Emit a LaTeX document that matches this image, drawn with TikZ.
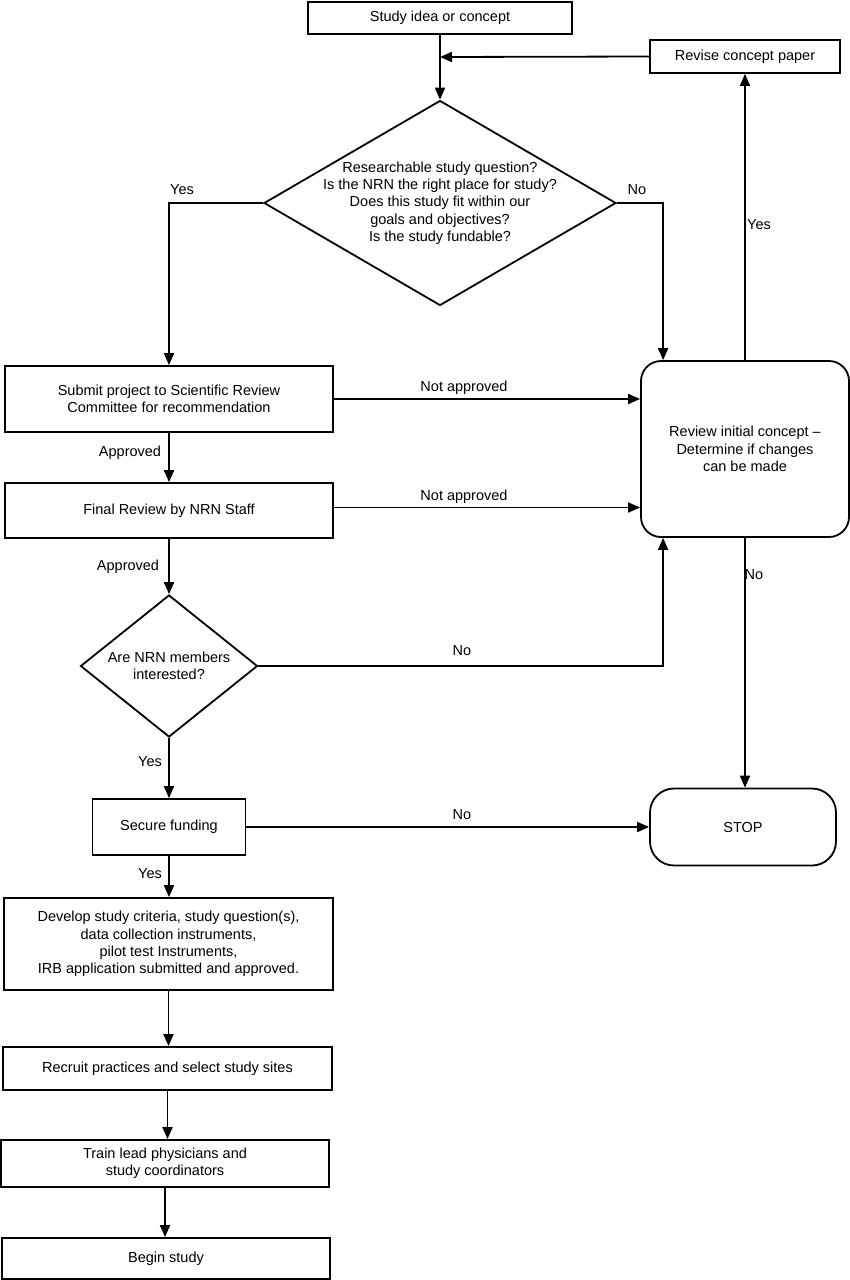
\documentclass[tikz,border=0pt]{standalone}
\usepackage{fontspec}
\setmainfont{Liberation Sans}
\usetikzlibrary{shapes.geometric,arrows.meta}
\tikzset{
  box/.style={draw, line width=1.8pt, inner sep=0pt, align=center, rectangle},
  rbox/.style={box, rounded corners=20pt},
  dia/.style={draw, line width=1.8pt, diamond, inner sep=0pt},
  conn/.style={line width=1.8pt},
  arr/.style={conn, -{Triangle[length=12pt,width=10pt]}},
  lbl/.style={inner sep=1pt},
}
\begin{document}
\begin{tikzpicture}[x=1pt,y=-1pt,font=\fontsize{14.5}{17.3}\selectfont]
\useasboundingbox (0,0) rectangle (850,1280);
% nodes
\node[box, minimum width=264, minimum height=32] (study) at (440,18) {Study idea or concept};
\node[box, minimum width=190, minimum height=33] (revise) at (745,56.5) {Revise concept paper};
\node[dia, minimum width=352, minimum height=205] (d1) at (440,203) {};
\node[align=center, inner sep=0pt] (d1t) at (d1.center) {Researchable study question?\\Is the NRN the right place for study?\\Does this study fit within our\\goals and objectives?\\Is the study fundable?};
\node[box, minimum width=328, minimum height=66] (submit) at (169,399) {Submit project to Scientific Review\\Committee for recommendation};
\node[box, minimum width=328, minimum height=55] (final) at (169,510.5) {Final Review by NRN Staff};
\node[rbox, minimum width=208, minimum height=176] (review) at (745,449) {Review initial concept --\\Determine if changes\\can be made};
\node[dia, minimum width=177, minimum height=142] (d2) at (169,666) {};
\node[align=center, inner sep=0pt] (d2t) at (d2.center) {Are NRN members\\interested?};
\node[rbox, rounded corners=24pt, minimum width=186, minimum height=77] (stop) at (743,827) {STOP};
\node[box, minimum width=153, minimum height=56] (secure) at (169,827) {Secure funding};
\node[box, minimum width=329, minimum height=92] (develop) at (168.5,944) {Develop study criteria, study question(s),\\data collection instruments,\\pilot test Instruments,\\IRB application submitted and approved.};
\node[box, minimum width=329, minimum height=43] (recruit) at (167.5,1068.5) {Recruit practices and select study sites};
\node[box, minimum width=328, minimum height=47] (train) at (165,1163.5) {Train lead physicians and\\study coordinators};
\node[box, minimum width=328, minimum height=41] (begin) at (166,1258.5) {Begin study};
\coordinate (j1) at (440,57);
% connectors
\draw[arr] (study.south) -- (d1.north);
\draw[arr] (revise.west) -- (j1);
\draw[arr] (d1.west) -| (submit.north);
\node[lbl] (lyes1) at (182,190) {Yes};
\draw[arr] (d1.east) -| ([xshift=23pt]review.north west);
\node[lbl] (lno1) at (637,190) {No};
\draw[arr] (review.north) -- (review.north |- revise.south);
\node[lbl] (lyes2) at (759,225) {Yes};
\draw[arr] (submit.east) -- (submit.east -| review.west);
\node[lbl] (lna1) at (464,388) {Not approved};
\draw[arr] ([yshift=3pt]final.east) -- ([yshift=3pt]final.east -| review.west);
\node[lbl] (lna2) at (464,497) {Not approved};
\draw[arr] (submit.south) -- (final.north);
\node[lbl] (lap1) at (130,453) {Approved};
\draw[arr] (final.south) -- (d2.north);
\node[lbl] (lap2) at (128,567) {Approved};
\draw[arr] (d2.east) -| ([xshift=23pt]review.south west);
\node[lbl] (lno2) at (462,651) {No};
\draw[arr] (review.south) -- (review.south |- stop.north);
\node[lbl] (lno3) at (754,575) {No};
\draw[arr] (d2.south) -- (secure.north);
\node[lbl] (lyes3) at (150,762) {Yes};
\draw[arr] (secure.east) -- (stop.west);
\node[lbl] (lno4) at (462,815) {No};
\draw[arr] (secure.south) -- (secure.south |- develop.north);
\node[lbl] (lyes4) at (150,874) {Yes};
\draw[arr] (develop.south) -- (develop.south |- recruit.north);
\draw[arr] (recruit.south) -- (recruit.south |- train.north);
\draw[arr] (train.south) -- (train.south |- begin.north);
\end{tikzpicture}
\end{document}
